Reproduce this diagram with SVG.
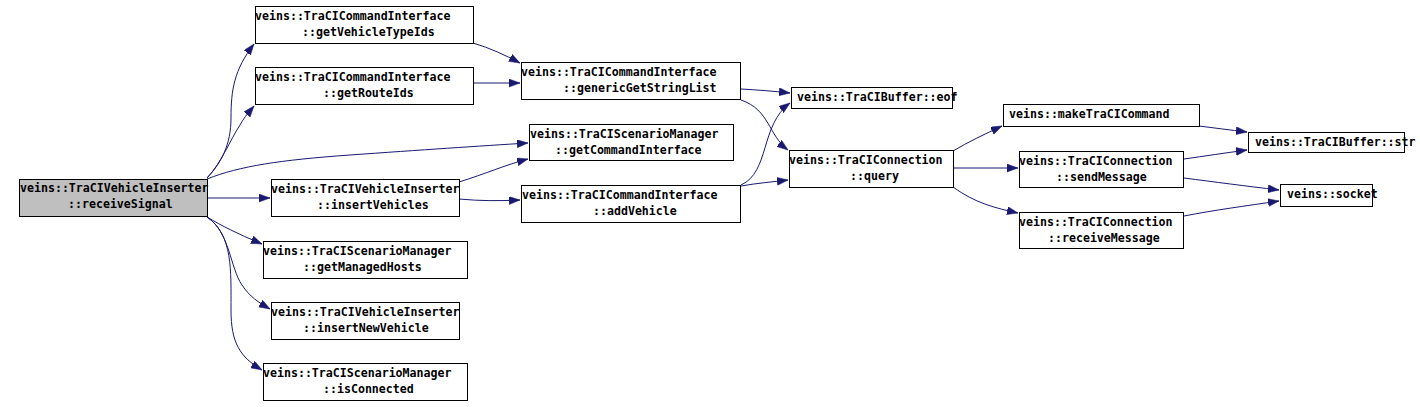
<svg xmlns="http://www.w3.org/2000/svg" width="1420" height="407" viewBox="0 0 1420 407">
<style>
.node rect{fill:#ffffff;stroke:#000000;stroke-width:1}
.root rect{fill:#bfbfbf}
.node text{font-family:"DejaVu Sans Mono","Liberation Mono",monospace;font-size:11.6px;font-weight:bold;fill:#000000}
.edges path{fill:none;stroke:#191970;stroke-width:1}
</style>
<defs>
<marker id="ah" markerUnits="userSpaceOnUse" markerWidth="12" markerHeight="9" refX="11" refY="4" orient="auto">
<path d="M0,0 L11,4 L0,8 z" fill="#191970" stroke="#191970" stroke-width="0.5"/>
</marker>
</defs>
<rect width="1420" height="407" fill="#ffffff"/>
<g class="edges">
<path marker-end="url(#ah)" d="M207,178 C221,163 231,145 231,118 C231,90 234,70 254,44"/>
<path marker-end="url(#ah)" d="M207,178 C222,162 230,140 240,125 C245,116 249,112 254,106"/>
<path marker-end="url(#ah)" d="M207,179 C240,166 280,160 350,155 C420,150 480,146 528,143"/>
<path marker-end="url(#ah)" d="M207,198 L270,198"/>
<path marker-end="url(#ah)" d="M207,217 C222,226 236,233 262,244"/>
<path marker-end="url(#ah)" d="M207,217 C230,232 230,268 242,285 C250,297 258,302 270,309"/>
<path marker-end="url(#ah)" d="M207,217 C233,235 231,270 231,310 C231,343 240,357 262,370"/>
<path marker-end="url(#ah)" d="M473,43 C490,48 505,55 520,63"/>
<path marker-end="url(#ah)" d="M473,83 L520,83"/>
<path marker-end="url(#ah)" d="M459,182 C485,174 505,165 528,159"/>
<path marker-end="url(#ah)" d="M459,199 C480,201 500,201 520,200"/>
<path marker-end="url(#ah)" d="M741,89 C758,90 772,91 790,93"/>
<path marker-end="url(#ah)" d="M741,100 C770,110 768,135 788,150"/>
<path marker-end="url(#ah)" d="M741,185 C770,172 760,125 790,103"/>
<path marker-end="url(#ah)" d="M741,186 C758,183 772,182 788,180"/>
<path marker-end="url(#ah)" d="M953,151 C968,142 985,134 1002,126"/>
<path marker-end="url(#ah)" d="M953,168 L1018,168"/>
<path marker-end="url(#ah)" d="M953,187 C975,203 995,208 1018,213"/>
<path marker-end="url(#ah)" d="M1199,126 C1215,128 1230,130 1247,132"/>
<path marker-end="url(#ah)" d="M1184,159 C1205,156 1225,153 1247,150"/>
<path marker-end="url(#ah)" d="M1184,178 C1215,182 1245,186 1279,190"/>
<path marker-end="url(#ah)" d="M1184,216 C1215,210 1245,206 1279,201"/>
</g>
<g id="n_receiveSignal" class="node root"><rect x="19.5" y="179.5" width="188" height="37"/><text x="20" y="191.5">veins::TraCIVehicleInserter</text><text x="68" y="207.5">::receiveSignal</text></g>
<g id="n_getVehicleTypeIds" class="node"><rect x="255.5" y="6.5" width="218" height="37"/><text x="255" y="19.5">veins::TraCICommandInterface</text><text x="302" y="35.5">::getVehicleTypeIds</text></g>
<g id="n_getRouteIds" class="node"><rect x="255.5" y="67.5" width="218" height="37"/><text x="255" y="80.5">veins::TraCICommandInterface</text><text x="323" y="96.5">::getRouteIds</text></g>
<g id="n_genericGetStringList" class="node"><rect x="521.5" y="62.5" width="219" height="37"/><text x="521" y="75.5">veins::TraCICommandInterface</text><text x="563" y="91.5">::genericGetStringList</text></g>
<g id="n_getCommandInterface" class="node"><rect x="529.5" y="124.5" width="204" height="36"/><text x="530" y="137.5">veins::TraCIScenarioManager</text><text x="555" y="153.5">::getCommandInterface</text></g>
<g id="n_insertVehicles" class="node"><rect x="271.5" y="179.5" width="188" height="37"/><text x="271" y="192.5">veins::TraCIVehicleInserter</text><text x="317" y="208.5">::insertVehicles</text></g>
<g id="n_addVehicle" class="node"><rect x="521.5" y="185.5" width="219" height="37"/><text x="522" y="198.5">veins::TraCICommandInterface</text><text x="593" y="214.5">::addVehicle</text></g>
<g id="n_getManagedHosts" class="node"><rect x="263.5" y="241.5" width="204" height="37"/><text x="263" y="254.5">veins::TraCIScenarioManager</text><text x="303" y="270.5">::getManagedHosts</text></g>
<g id="n_insertNewVehicle" class="node"><rect x="271.5" y="302.5" width="188" height="37"/><text x="271" y="315.5">veins::TraCIVehicleInserter</text><text x="303" y="331.5">::insertNewVehicle</text></g>
<g id="n_isConnected" class="node"><rect x="263.5" y="363.5" width="204" height="37"/><text x="263" y="376.5">veins::TraCIScenarioManager</text><text x="323" y="392.5">::isConnected</text></g>
<g id="n_eof" class="node"><rect x="791.5" y="87.5" width="161" height="21"/><text x="797" y="100.5">veins::TraCIBuffer::eof</text></g>
<g id="n_query" class="node"><rect x="789.5" y="150.5" width="164" height="37"/><text x="789" y="164">veins::TraCIConnection</text><text x="850" y="180">::query</text></g>
<g id="n_makeTraCICommand" class="node"><rect x="1003.5" y="104.5" width="196" height="22"/><text x="1009" y="117.5">veins::makeTraCICommand</text></g>
<g id="n_sendMessage" class="node"><rect x="1019.5" y="151.5" width="164" height="36"/><text x="1019" y="164.5">veins::TraCIConnection</text><text x="1056" y="180.5">::sendMessage</text></g>
<g id="n_receiveMessage" class="node"><rect x="1019.5" y="212.5" width="164" height="36"/><text x="1019" y="225.5">veins::TraCIConnection</text><text x="1048" y="241.5">::receiveMessage</text></g>
<g id="n_str" class="node"><rect x="1248.5" y="132.5" width="156" height="20"/><text x="1255" y="145.5">veins::TraCIBuffer::str</text></g>
<g id="n_socket" class="node"><rect x="1280.5" y="184.5" width="92" height="22"/><text x="1287" y="197.5">veins::socket</text></g>
</svg>
